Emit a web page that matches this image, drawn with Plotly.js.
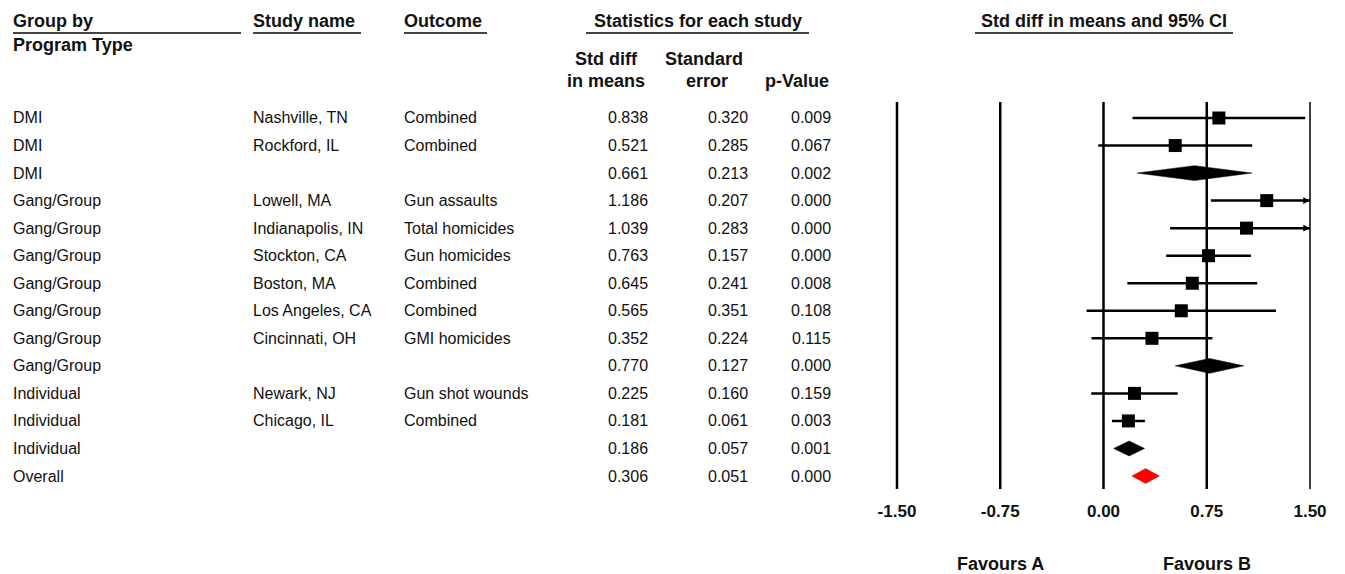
<!DOCTYPE html>
<html>
<head>
<meta charset="utf-8">
<script src="https://cdn.plot.ly/plotly-3.0.1.min.js"></script>
<style>html,body{margin:0;padding:0;background:#fff;}#chart{width:1345px;height:574px;}</style>
</head>
<body>
<div id="chart"></div>
<script>
// ---------- data ----------
const groups = ['DMI','DMI','DMI','Gang/Group','Gang/Group','Gang/Group','Gang/Group','Gang/Group','Gang/Group','Gang/Group','Individual','Individual','Individual','Overall'];
const studies = ['Nashville, TN','Rockford, IL','','Lowell, MA','Indianapolis, IN','Stockton, CA','Boston, MA','Los Angeles, CA','Cincinnati, OH','','Newark, NJ','Chicago, IL','',''];
const outcomes = ['Combined','Combined','','Gun assaults','Total homicides','Gun homicides','Combined','Combined','GMI homicides','','Gun shot wounds','Combined','',''];
const rowKinds = ['study','study','subtotal','study','study','study','study','study','study','subtotal','study','study','subtotal','overall'];
const stdDiff = [0.838,0.521,0.661,1.186,1.039,0.763,0.645,0.565,0.352,0.770,0.225,0.181,0.186,0.306];
const stdErr  = [0.320,0.285,0.213,0.207,0.283,0.157,0.241,0.351,0.224,0.127,0.160,0.061,0.057,0.051];
const pValues = [0.009,0.067,0.002,0.000,0.000,0.000,0.008,0.108,0.115,0.000,0.159,0.003,0.001,0.000];
const ciLower = [0.211,-0.038,0.244,0.780,0.484,0.455,0.173,-0.123,-0.087,0.521,-0.089,0.061,0.074,0.206];
const ciUpper = [1.465,1.080,1.078,1.592,1.594,1.071,1.117,1.253,0.791,1.019,0.539,0.301,0.298,0.406];
const tickVals = [-1.5,-0.75,0,0.75,1.5];
const tickText = ['-1.50','-0.75','0.00','0.75','1.50'];
const favourLabels = ['Favours A','Favours B'];
const favourPos = [-0.75,0.75];

// ---------- layout helpers ----------
const W = 1345, H = 574;
const px = v => v / W;
const py = v => 1 - v / H;
const xMin = -1.5, xMax = 1.5;
const FONT = 'Arial, "Liberation Sans", sans-serif';
const bodyFont = {family: FONT, size: 16, color: '#111'};
const headFont = {family: FONT, size: 18, color: '#111'};
const tickFont = {family: FONT, size: 17, color: '#111'};

const rows = stdDiff.map((_, i) => i);

const traces = [];
// study squares with CI lines (error bars)
const sIdx = rows.filter(i => rowKinds[i] === 'study');
traces.push({
  type: 'scatter', mode: 'markers',
  x: sIdx.map(i => stdDiff[i]), y: sIdx,
  marker: {symbol: 'square', size: 13, color: '#000'},
  error_x: {
    type: 'data', symmetric: false,
    array: sIdx.map(i => Math.min(ciUpper[i], xMax) - stdDiff[i]),
    arrayminus: sIdx.map(i => stdDiff[i] - Math.max(ciLower[i], xMin)),
    color: '#000', thickness: 2.5, width: 0
  },
  hoverinfo: 'skip', showlegend: false, cliponaxis: false
});
// diamonds for subtotals and overall
const halfH = 0.27;
rows.filter(i => rowKinds[i] !== 'study').forEach(i => {
  const col = rowKinds[i] === 'overall' ? '#ff0000' : '#000';
  traces.push({
    type: 'scatter', mode: 'lines', fill: 'toself', fillcolor: col,
    x: [ciLower[i], stdDiff[i], ciUpper[i], stdDiff[i], ciLower[i]],
    y: [i, i - halfH, i, i + halfH, i],
    line: {width: 0.5, color: col},
    hoverinfo: 'skip', showlegend: false
  });
});

const annotations = [];
// body table text
rows.forEach(i => {
  annotations.push({xref:'paper', yref:'y', x: px(11), y: i, xanchor:'left', yanchor:'middle', text: groups[i], showarrow:false, font: bodyFont});
  if (studies[i]) annotations.push({xref:'paper', yref:'y', x: px(251), y: i, xanchor:'left', yanchor:'middle', text: studies[i], showarrow:false, font: bodyFont});
  if (outcomes[i]) annotations.push({xref:'paper', yref:'y', x: px(402), y: i, xanchor:'left', yanchor:'middle', text: outcomes[i], showarrow:false, font: bodyFont});
  annotations.push({xref:'paper', yref:'y', x: px(650), y: i, xanchor:'right', yanchor:'middle', text: stdDiff[i].toFixed(3), showarrow:false, font: bodyFont});
  annotations.push({xref:'paper', yref:'y', x: px(750), y: i, xanchor:'right', yanchor:'middle', text: stdErr[i].toFixed(3), showarrow:false, font: bodyFont});
  annotations.push({xref:'paper', yref:'y', x: px(833), y: i, xanchor:'right', yanchor:'middle', text: pValues[i].toFixed(3), showarrow:false, font: bodyFont});
  // arrows for CIs that run past the axis limit
  if (rowKinds[i] === 'study' && ciUpper[i] > xMax) {
    annotations.push({xref:'x', yref:'y', axref:'x', ayref:'y', x: xMax, y: i, ax: xMax - 0.06, ay: i, text:'', showarrow:true, arrowhead: 2, arrowsize: 0.9, arrowwidth: 1.5, arrowcolor:'#000'});
  }
});
// headers
const hdr = (x, y, t, anchor) => annotations.push({xref:'paper', yref:'paper', x: px(x), y: py(y), xanchor: anchor, yanchor:'middle', text: '<b>' + t + '</b>', showarrow:false, font: headFont});
hdr(11, 21, 'Group by', 'left');
hdr(11, 45, 'Program Type', 'left');
hdr(251, 21, 'Study name', 'left');
hdr(402, 21, 'Outcome', 'left');
hdr(698, 21, 'Statistics for each study', 'center');
hdr(606, 59, 'Std diff', 'center');
hdr(606, 81, 'in means', 'center');
hdr(704, 59, 'Standard', 'center');
hdr(707, 81, 'error', 'center');
hdr(797, 81, 'p-Value', 'center');
hdr(1104, 21, 'Std diff in means and 95% CI', 'center');
favourLabels.forEach((t, k) => annotations.push({xref:'x', yref:'paper', x: favourPos[k], y: py(564), xanchor:'center', yanchor:'middle', text:'<b>' + t + '</b>', showarrow:false, font: headFont}));

// shapes: header underlines + vertical reference lines
const shapes = [];
const ul = (x0, x1) => shapes.push({type:'line', xref:'paper', yref:'paper', x0: px(x0), x1: px(x1), y0: py(33), y1: py(33), line:{color:'#444', width:2}});
ul(13, 241); ul(253, 361); ul(404, 487); ul(586, 809); ul(975, 1233);
tickVals.forEach(v => shapes.push({type:'line', xref:'x', yref:'y domain', x0: v, x1: v, y0: 0, y1: 1, layer:'below', line:{color:'#000', width: v === xMax ? 1.5 : 2.5}}));

// axis geometry (plot box: x 897..1310 px, y 102..489 px)
const rowTop = 118, rowStep = (476 - 118) / 13;
const yTop = (102 - rowTop) / rowStep, yBot = (489 - rowTop) / rowStep;
const pad = 0.05;
const unitPx = (1310 - 897) / (xMax - xMin);
const layout = {
  width: W, height: H,
  margin: {l:0, r:0, t:0, b:0},
  paper_bgcolor: '#fff', plot_bgcolor: 'rgba(0,0,0,0)',
  showlegend: false,
  xaxis: {
    domain: [px(897 - pad * unitPx), px(1310 + pad * unitPx)],
    range: [xMin - pad, xMax + pad], fixedrange: true,
    showgrid: false, zeroline: false, showline: false, ticks: '',
    tickmode: 'array', tickvals: tickVals, ticktext: tickText.map(t => '<b>' + t + '</b>'),
    tickfont: tickFont, ticklabelstandoff: 10
  },
  yaxis: {
    domain: [1 - 489 / H, 1 - 102 / H],
    range: [yBot, yTop], autorange: false, fixedrange: true,
    showgrid: false, zeroline: false, showline: false, showticklabels: false, ticks: ''
  },
  shapes: shapes, annotations: annotations
};
Plotly.newPlot('chart', traces, layout, {displayModeBar: false, staticPlot: true});
</script>
</body>
</html>
